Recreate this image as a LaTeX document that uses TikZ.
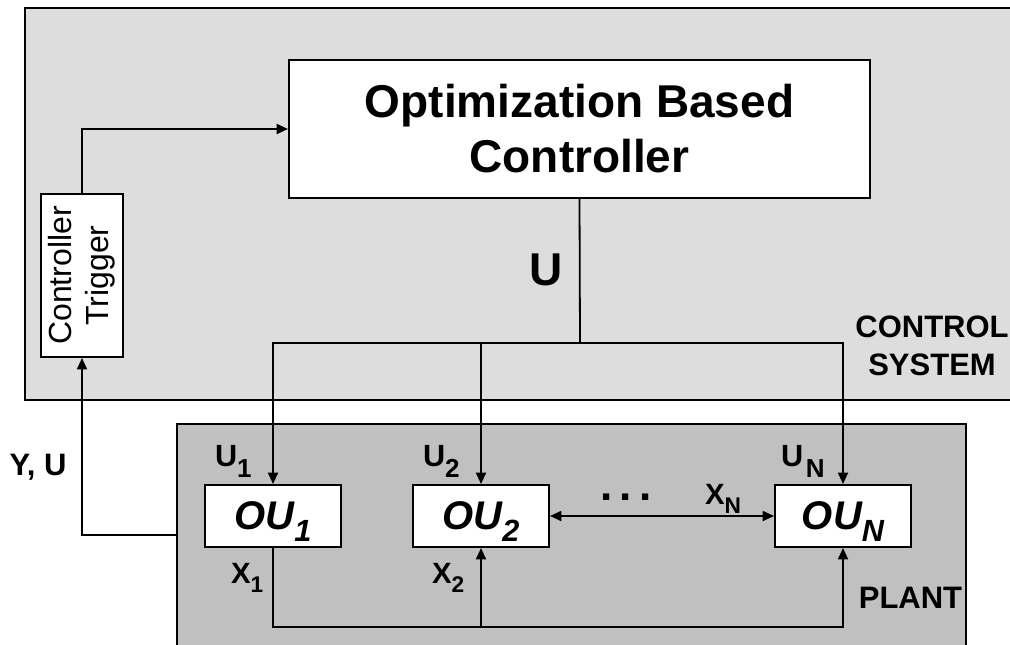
\documentclass[tikz,border=0pt]{standalone}
\usepackage{fontspec}
\setmainfont{Liberation Sans}
\usetikzlibrary{arrows.meta,calc}

\definecolor{ctrlgray}{HTML}{DDDDDD}
\definecolor{plantgray}{HTML}{C0C0C0}

% symbol with a lowered index: {symbol}{index}{symbol size}{index size}{drop}
\newcommand{\sig}[5]{{\fontsize{#3}{#3}\selectfont #1}\raisebox{-#5}{\fontsize{#4}{#4}\selectfont #2}}

\tikzset{
  region/.style={draw=black, line width=1.9pt},
  blk/.style={draw=black, fill=white, line width=1.5pt},
  oubox/.style={blk, minimum width=102pt, minimum height=46.5pt,
    font=\bfseries\itshape, text depth=0pt},
  wire/.style={line width=1.35pt, line join=miter},
  arr/.style={wire, -{Triangle[length=8.5pt,width=7.5pt]}},
  darr/.style={wire, {Triangle[length=8.5pt,width=7.5pt]}-{Triangle[length=8.5pt,width=7.5pt]}},
  lbl/.style={inner sep=0pt, outer sep=0pt},
  caption/.style={lbl, anchor=base, font=\bfseries\fontsize{23.25pt}{23.25pt}\selectfont},
  sigl/.style={lbl, anchor=base west, font=\bfseries},
}

\begin{document}
\begin{tikzpicture}[x=0.75pt,y=-0.75pt]
\useasboundingbox (0,0) rectangle (1010,644);
\clip (0,0) rectangle (1010,644);

% control system and plant regions
\draw[region, fill=ctrlgray] (25,8) rectangle (1040,400);
\draw[region, fill=plantgray] (177,424) rectangle (966,680);

% blocks
\node[blk, minimum width=435.75pt, minimum height=103.5pt, align=center,
      font=\bfseries\fontsize{34.5pt}{41.25pt}\selectfont] (main) at (579.5,129)
      {Optimization Based\\Controller};
\node[blk, minimum width=61.5pt, minimum height=122.25pt] (trig) at (82,275.5) {};
\node[lbl, rotate=90, align=center, font=\fontsize{24pt}{27.75pt}\selectfont]
      (trigtext) at (trig.center) {Controller\\Trigger};

\node[oubox] (ou1) at (273,516) {\sig{OU}{1}{30pt}{23pt}{9pt}};
\node[oubox] (ou2) at (481,516) {\sig{OU}{2}{30pt}{23pt}{9pt}};
\node[oubox] (ouN) at (843,516) {\sig{OU}{N}{30pt}{23pt}{9pt}};

% junction points
\coordinate (ubus) at (580,343);
\coordinate (plantout) at (177,535);
\coordinate (xb1) at (273,627);
\coordinate (xb2) at (481,627);
\coordinate (xbN) at (843,627);

% trigger path
\draw[arr] (trig.north) |- (main.west);
\draw[arr] (plantout) -| (trig.south);

% control input distribution
\draw[wire] (main.south) -- (ubus);
\draw[arr] (ubus) -| (ou1.north);
\draw[arr] (ubus) -| (ou2.north);
\draw[arr] (ubus) -| (ouN.north);

% state coupling between units
\draw[arr] (ou1.south) -- (xb1) -- (xbN) -- (ouN.south);
\draw[arr] (xb2) -- (ou2.south);
\draw[darr] (ou2.east) -- (ouN.west);

% labels
\node[lbl, anchor=base, font=\bfseries\fontsize{34.5pt}{34.5pt}\selectfont] (ulab) at (546,285) {U};
\node[caption] (cs1) at (932,337) {CONTROL};
\node[caption] (cs2) at (932,375) {SYSTEM};
\node[caption] (plantlab) at (910.5,608) {PLANT};
\node[caption] (yu) at (38,475) {Y, U};

\node[sigl] (u1) at (215,466) {\sig{U}{1}{23pt}{19.5pt}{8.25pt}};
\node[sigl] (u2) at (423,466) {\sig{U}{2}{23pt}{19.5pt}{8.25pt}};
\node[sigl] (uN) at (781,466) {\sig{U}{\kern2pt N}{23pt}{19.5pt}{8.25pt}};

\node[sigl] (x1) at (231,583) {\sig{X}{1}{22pt}{17pt}{6.75pt}};
\node[sigl] (x2) at (432,583) {\sig{X}{2}{22pt}{17pt}{6.75pt}};
\node[sigl] (xN) at (705,504) {\sig{X}{N}{22pt}{17pt}{6.75pt}};

\node[lbl, anchor=base, font=\bfseries\fontsize{33pt}{33pt}\selectfont] (dots) at (626,500)
      {.\kern5.5pt.\kern5.5pt.};
\end{tikzpicture}
\end{document}
